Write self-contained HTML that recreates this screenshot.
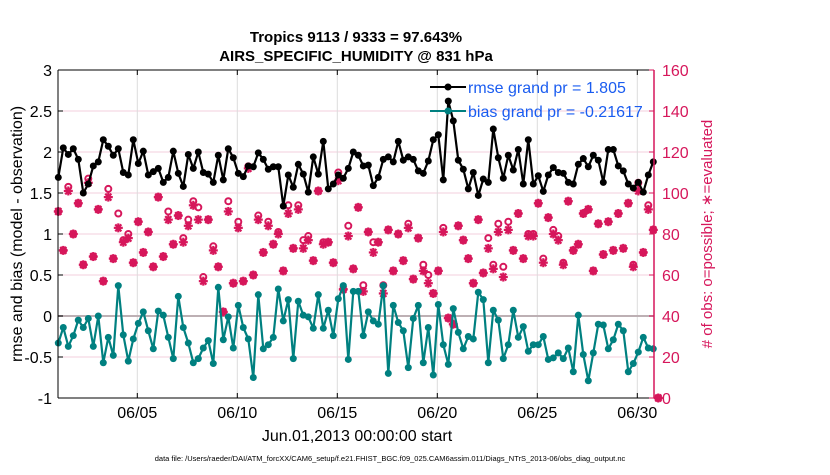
<!DOCTYPE html>
<html><head><meta charset="utf-8"><style>
body{margin:0;background:#fff;width:830px;height:470px;overflow:hidden}
svg{font-family:"Liberation Sans",sans-serif}
</style></head><body>
<svg id="chart" width="830" height="470" viewBox="0 0 830 470" xmlns="http://www.w3.org/2000/svg">
<rect width="830" height="470" fill="#fff"/>
<text x="356" y="42" text-anchor="middle" font-size="15" font-weight="bold">Tropics 9113 / 9333 = 97.643%</text>
<text x="356" y="61" text-anchor="middle" font-size="15" font-weight="bold">AIRS_SPECIFIC_HUMIDITY @ 831 hPa</text>
<g id="grid"></g><g id="marks"></g><g id="axes"></g>
<text x="357" y="441" text-anchor="middle" font-size="16">Jun.01,2013 00:00:00 start</text>
<text transform="translate(22,234) rotate(-90)" text-anchor="middle" font-size="16">rmse and bias (model - observation)</text>
<text transform="translate(712,234) rotate(-90)" text-anchor="middle" font-size="15" fill="#d6175b"># of obs: o=possible; ∗=evaluated</text>
<text x="390" y="461" text-anchor="middle" font-size="7.5">data file: /Users/raeder/DAI/ATM_forcXX/CAM6_setup/f.e21.FHIST_BGC.f09_025.CAM6assim.011/Diags_NTrS_2013-06/obs_diag_output.nc</text>
<g>
<line x1="430" y1="87" x2="466" y2="87" stroke="#000" stroke-width="2"/><circle cx="448" cy="87" r="3.5" fill="#000"/>
<text x="468" y="93" font-size="16" fill="#1a5cf0">rmse grand pr = 1.805</text>
<line x1="430" y1="111" x2="466" y2="111" stroke="#008080" stroke-width="2"/><circle cx="448" cy="111" r="3.5" fill="#008080"/>
<text x="468" y="117" font-size="16" fill="#1a5cf0">bias grand pr = -0.21617</text>
</g>
</svg>
<script>
const rmse=[1.69,2.05,1.97,2.04,1.91,1.50,1.61,1.83,1.88,2.15,2.07,1.96,2.04,1.75,1.72,2.15,1.86,2.01,1.72,1.76,1.80,1.63,1.69,2.01,1.74,1.58,1.97,1.80,2.00,1.75,1.73,
1.63,1.96,1.66,2.04,1.93,1.74,1.70,1.83,1.82,1.99,1.91,1.79,1.82,1.82,1.34,1.72,1.57,1.85,1.73,1.51,1.94,1.73,2.13,1.55,1.61,1.72,1.68,1.80,2.00,1.96,
1.83,1.84,1.59,1.69,1.91,1.94,1.88,2.13,1.90,1.94,1.91,1.77,1.74,1.89,2.15,2.21,1.66,2.62,2.38,1.90,1.79,1.55,1.75,1.47,1.67,1.63,2.28,1.93,1.68,1.96,
1.78,2.03,1.61,2.15,1.61,1.71,1.52,1.72,1.81,1.75,1.74,1.63,1.61,1.85,1.92,1.82,1.96,1.90,1.63,2.03,2.03,1.83,1.77,1.61,1.56,1.63,1.51,1.72,1.88,null];
const bias=[-0.33,-0.14,-0.37,-0.24,-0.05,-0.14,-0.03,-0.37,0.00,-0.57,-0.26,-0.48,0.37,-0.23,-0.55,-0.28,-0.09,0.05,-0.18,-0.40,0.06,0.01,-0.26,-0.52,0.24,-0.14,-0.33,-0.57,-0.52,-0.39,-0.30,
-0.58,0.35,-0.29,-0.01,-0.39,0.13,-0.14,-0.28,-0.75,0.26,-0.40,-0.35,-0.26,0.33,-0.06,0.20,-0.52,0.18,0.01,-0.01,-0.15,0.26,-0.15,0.07,-0.24,0.21,0.37,-0.53,0.30,0.30,
-0.24,0.05,-0.06,-0.10,0.37,-0.70,0.13,-0.08,-0.18,-0.63,-0.03,0.13,-0.57,-0.14,-0.72,0.14,-0.35,-0.59,0.09,-0.20,-0.40,-0.25,-0.28,0.29,0.20,-0.57,0.07,-0.05,-0.52,-0.35,
0.07,-0.26,-0.13,-0.43,-0.35,-0.35,-0.25,-0.53,-0.51,-0.45,-0.52,-0.39,-0.68,0.01,-0.47,-0.79,-0.45,-0.10,-0.11,-0.40,-0.29,-0.10,-0.18,-0.68,-0.58,-0.44,-0.26,-0.39,-0.40,null];
const possible=[91,72,103,80,95,65,107,69,92,57,102,68,90,77,80,66,86,71,81,64,98,69,91,75,89,78,87,96,93,59,87,
74,64,42,96,56,86,57,113,60,89,71,86,75,81,62,94,73,94,77,79,67,101,76,76,66,110,53,84,63,93,
55,81,76,76,55,82,62,80,67,85,58,78,65,60,51,62,83,39,36,84,77,68,56,87,61,78,65,85,64,86,
72,90,68,80,80,95,68,88,82,79,66,96,72,75,90,92,62,85,70,86,72,90,73,95,65,105,71,94,82,0];
const evaluated=[91,72,101,80,95,65,105,69,92,57,98,68,83,76,78,66,86,71,81,64,98,69,87,75,89,76,84,94,87,57,87,
72,64,42,91,56,83,57,112,60,87,71,84,75,80,62,90,73,92,73,77,67,101,75,76,66,106,53,79,63,93,
52,81,71,76,51,82,62,80,67,83,58,78,62,56,51,62,81,39,36,84,77,68,56,87,61,73,63,81,59,82,
72,90,68,79,79,95,66,88,80,77,65,96,72,75,90,92,62,85,70,86,72,90,73,95,64,101,71,92,82,0];
const leftTicks=[3,2.5,2,1.5,1,0.5,0,-0.5,-1];
const rightTicks=[0,20,40,60,80,100,120,140,160];
const dateTicks=[5,10,15,20,25,30];
const dateLabels=["06/05","06/10","06/15","06/20","06/25","06/30"];

const L=58,R=654,T=70,B=398,C='#d6175b';
const xDay=d=>57.3+(d-1)*20;
const xIdx=i=>xDay(1.05+i*0.25);
const yL=v=>B-(v+1)/4*(B-T);
const yR=v=>B-v/160*(B-T);
const NS='http://www.w3.org/2000/svg';
function mk(tag,attrs,parent){const e=document.createElementNS(NS,tag);for(const k in attrs)e.setAttribute(k,attrs[k]);parent.appendChild(e);return e;}
const grid=document.getElementById('grid'),marks=document.getElementById('marks'),axes=document.getElementById('axes');
rightTicks.forEach(t=>{const g=mk('line',{x1:L,x2:R,y1:yR(t),y2:yR(t),stroke:'#f3cfdc','stroke-width':1},grid);

});
dateTicks.forEach(d=>{const g=mk('line',{x1:xDay(d),x2:xDay(d),y1:T,y2:B,stroke:'#dcdcdc','stroke-width':1},grid);

});
const zl=mk('line',{x1:L,x2:R,y1:yL(0),y2:yL(0),stroke:'#bdb0b4','stroke-width':2},grid);


possible.forEach((v,i)=>{const x=xIdx(i),y=yR(v);
const c=mk('circle',{cx:x,cy:y,r:3,fill:'none',stroke:C,'stroke-width':2},marks);

});
evaluated.forEach((v,i)=>{const x=xIdx(i),y=yR(v);
const g=mk('g',{stroke:C,'stroke-width':2.2},marks);


mk('line',{x1:x-4.5,x2:x+4.5,y1:y,y2:y},g);mk('line',{x1:x-3,x2:x+3,y1:y-3.5,y2:y+3.5},g);mk('line',{x1:x-3,x2:x+3,y1:y+3.5,y2:y-3.5},g);mk('line',{x1:x,x2:x,y1:y-4.5,y2:y+4.5},g);});
function series(arr,color,name){let d='';arr.forEach((v,i)=>{if(v==null)return;d+=(d?'L':'M')+xIdx(i).toFixed(1)+','+yL(v).toFixed(1);});
const p=mk('path',{d:d,fill:'none',stroke:color,'stroke-width':2.2,'stroke-linejoin':'round'},marks);


arr.forEach((v,i)=>{if(v==null)return;const c=mk('circle',{cx:xIdx(i),cy:yL(v),r:3.5,fill:color},marks);

});}
series(bias,'#008080','bias');
series(rmse,'#000','rmse');
mk('line',{x1:L,x2:R,y1:T,y2:T,stroke:'#000','stroke-width':1},axes);
mk('line',{x1:L,x2:R,y1:B,y2:B,stroke:'#000','stroke-width':1},axes);
mk('line',{x1:L,x2:L,y1:T,y2:B,stroke:'#000','stroke-width':1},axes);
mk('line',{x1:R,x2:R,y1:T,y2:B,stroke:C,'stroke-width':1.5},axes);
leftTicks.forEach(t=>{const y=yL(t);mk('line',{x1:L,x2:L+5,y1:y,y2:y,stroke:'#000'},axes);
const tx=mk('text',{x:L-6,y:y+6,'text-anchor':'end','font-size':16},axes);tx.textContent=String(t);

});
rightTicks.forEach(t=>{const y=yR(t);mk('line',{x1:R-5,x2:R,y1:y,y2:y,stroke:C},axes);
const tx=mk('text',{x:R+8,y:y+6,'font-size':16,fill:C},axes);tx.textContent=String(t);

});
dateTicks.forEach((d,i)=>{const x=xDay(d);mk('line',{x1:x,x2:x,y1:B,y2:B-5,stroke:'#000'},axes);mk('line',{x1:x,x2:x,y1:T,y2:T+5,stroke:'#000'},axes);
const tx=mk('text',{x:x,y:B+20,'text-anchor':'middle','font-size':16},axes);tx.textContent=dateLabels[i];

});
</script>
</body></html>
